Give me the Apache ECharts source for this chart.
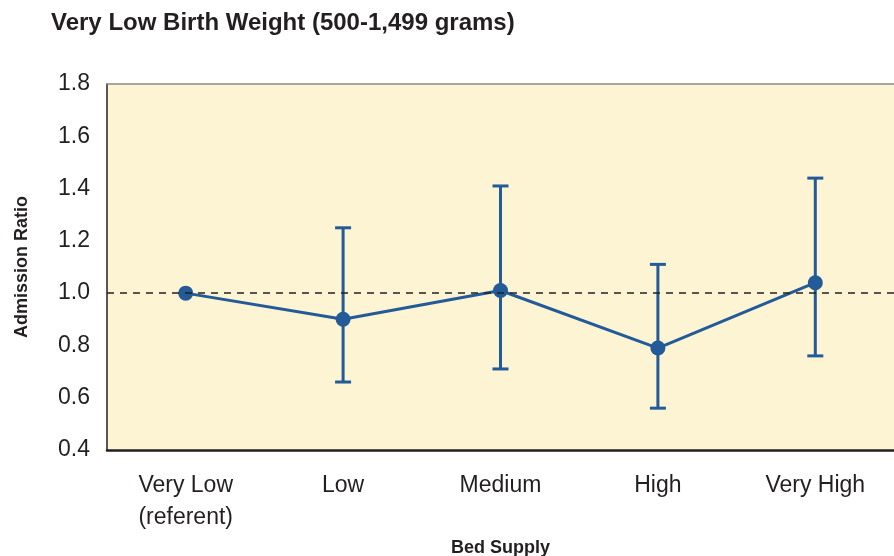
<!DOCTYPE html>
<html>
<head>
<meta charset="utf-8">
<script src="https://cdn.jsdelivr.net/npm/echarts@6/dist/echarts.min.js"></script>
<style>
  html, body { margin: 0; padding: 0; background: #fff; }
  #chart { width: 894px; height: 556px; }
</style>
</head>
<body>
<div id="chart"></div>
<script>
// bed supply groups
var categories = ['Very Low\n(referent)', 'Low', 'Medium', 'High', 'Very High']
// admission ratio point estimates
var ratios = [1.0, 0.90, 1.01, 0.79, 1.04]
// 95% CI bounds (referent has none)
var ciLow = [null, 0.66, 0.71, 0.56, 0.76]
var ciHigh = [null, 1.25, 1.41, 1.11, 1.44]
var refLine = 1.0

var blue = '#235a98'
var ink = '#231f20'

var errData = categories.map(function (c, i) {
  return [i, ciLow[i], ciHigh[i]]
}).filter(function (d) { return d[1] != null })

var chart = echarts.init(document.getElementById('chart'))
chart.setOption({
  animation: false,
  title: {
    text: 'Very Low Birth Weight (500-1,499 grams)',
    left: 46,
    top: 6,
    textStyle: {
      fontFamily: 'Liberation Sans',
      fontWeight: 'bold',
      fontSize: 24,
      color: ink
    }
  },
  grid: {
    left: 107,
    right: 0,
    top: 84,
    bottom: 106,
    outerBoundsMode: 'none',
    show: true,
    backgroundColor: '#fdf4d4',
    borderWidth: 0
  },
  xAxis: [{
    type: 'category',
    data: categories,
    name: 'Bed Supply',
    nameLocation: 'middle',
    nameGap: 83,
    nameTextStyle: { fontFamily: 'Liberation Sans', fontWeight: 'bold', fontSize: 18, color: ink },
    axisLine: { lineStyle: { color: ink, width: 2.5 } },
    axisTick: { show: false },
    axisLabel: {
      margin: 20,
      fontFamily: 'Liberation Sans',
      fontSize: 23,
      lineHeight: 32,
      color: ink
    }
  }, {
    type: 'category',
    position: 'top',
    data: categories,
    axisLine: { lineStyle: { color: '#888', width: 1.5 } },
    axisTick: { show: false },
    axisLabel: { show: false }
  }],
  yAxis: {
    type: 'value',
    min: 0.4,
    max: 1.8,
    interval: 0.2,
    name: 'Admission Ratio',
    nameLocation: 'middle',
    nameGap: 76,
    nameTextStyle: { fontFamily: 'Liberation Sans', fontWeight: 'bold', fontSize: 18, color: ink },
    axisLine: { show: true, lineStyle: { color: ink, width: 1.5 } },
    axisTick: { show: false },
    splitLine: { show: false },
    axisLabel: {
      margin: 17,
      fontFamily: 'Liberation Sans',
      fontSize: 23,
      color: ink,
      formatter: function (v) { return v.toFixed(1) }
    }
  },
  series: [{
    type: 'custom',
    name: 'CI',
    z: 2,
    data: errData,
    renderItem: function (params, api) {
      var x = api.value(0)
      var lo = api.coord([x, api.value(1)])
      var hi = api.coord([x, api.value(2)])
      var half = 8
      var style = { stroke: blue, lineWidth: 3 }
      return {
        type: 'group',
        children: [
          { type: 'line', shape: { x1: lo[0], y1: lo[1], x2: hi[0], y2: hi[1] }, style: style },
          { type: 'line', shape: { x1: lo[0] - half, y1: lo[1], x2: lo[0] + half, y2: lo[1] }, style: style },
          { type: 'line', shape: { x1: hi[0] - half, y1: hi[1], x2: hi[0] + half, y2: hi[1] }, style: style }
        ]
      }
    }
  }, {
    type: 'line',
    name: 'Admission Ratio',
    z: 3,
    data: ratios,
    symbol: 'circle',
    symbolSize: 15,
    lineStyle: { color: blue, width: 3 },
    itemStyle: { color: blue },
    markLine: {
      silent: true,
      symbol: 'none',
      label: { show: false },
      lineStyle: { color: ink, type: [7, 6], width: 1.5 },
      data: [{ yAxis: refLine }]
    }
  }]
})
</script>
</body>
</html>
